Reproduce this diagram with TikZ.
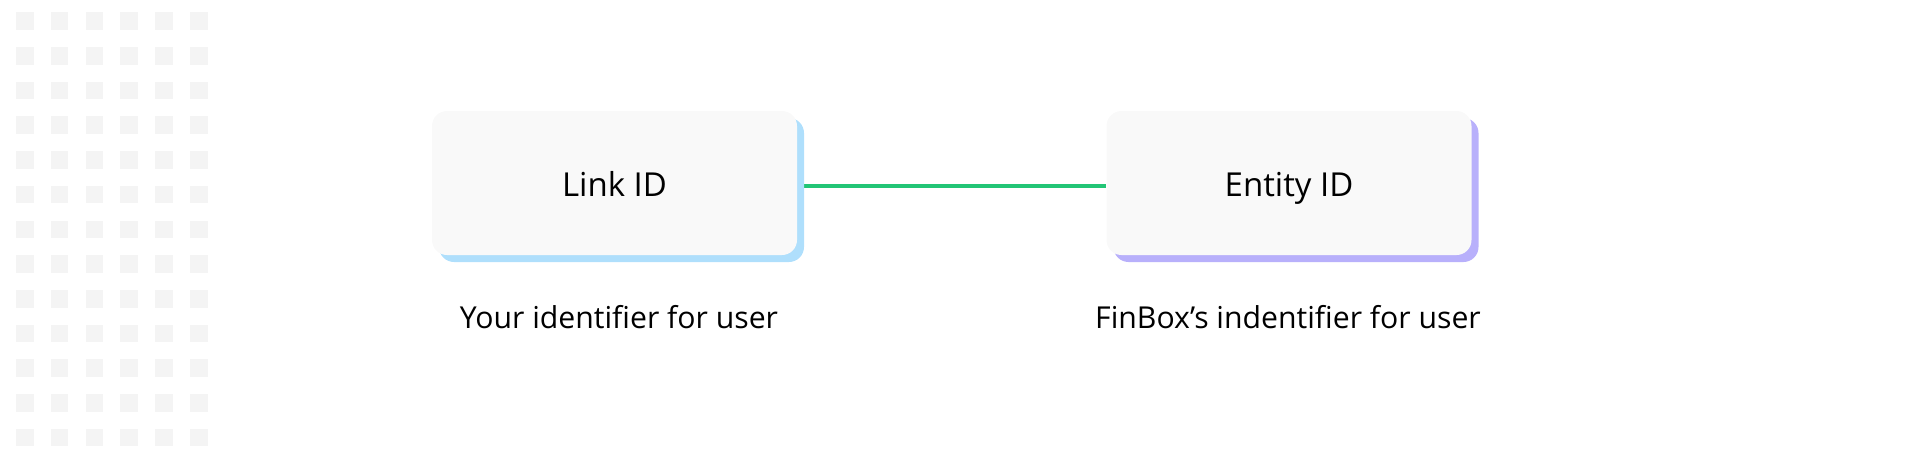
\documentclass[tikz,border=0pt]{standalone}
\usepackage{fontspec}
\setmainfont{Open Sans}
\usepackage{xcolor}
\usetikzlibrary{shadows,backgrounds}

\definecolor{boxgray}{HTML}{F9F9F9}
\definecolor{gridgray}{HTML}{F4F4F4}
\definecolor{linkblue}{HTML}{AFDFFC}
\definecolor{entitypurple}{HTML}{B8B0FB}
\definecolor{joingreen}{HTML}{22C576}

\begin{document}
\begin{tikzpicture}[x=1pt,y=-1pt,
        idbox/.style={rounded corners=15pt, fill=boxgray, minimum width=365pt, minimum height=144pt,
          inner sep=0pt, text height=26pt, text depth=0pt, font=\fontsize{33}{40}\selectfont},
        idshadow/.style={drop shadow={shadow xshift=7pt, shadow yshift=-7pt, opacity=1, fill=#1}},
        caption/.style={anchor=base, inner sep=0pt, font=\fontsize{30.2}{36}\selectfont}]
        \useasboundingbox (0,0) rectangle (1920,455);
        % dot grid on the left
        \foreach \i in {0,...,5}
          \foreach \j in {0,...,12}
            \fill [gridgray] (16+34.8*\i,12.3+34.7*\j) rectangle +(17.6,17.6);
        \node [idbox, idshadow=linkblue] (link) at (614.5,183) {Link ID};
        \node [idbox, idshadow=entitypurple] (entity) at (1289,183) {Entity ID};
        \node [caption] (linkcap) at (619,328) {Your identifier for user};
        \node [caption] (entitycap) at (1288,328) {FinBox’s indentifier for user};
        \begin{scope}[on background layer]
          \draw [joingreen, line width=4.5pt] ([yshift=-3pt]link.east) -- ([yshift=-3pt]entity.west);
        \end{scope}
\end{tikzpicture}
\end{document}
